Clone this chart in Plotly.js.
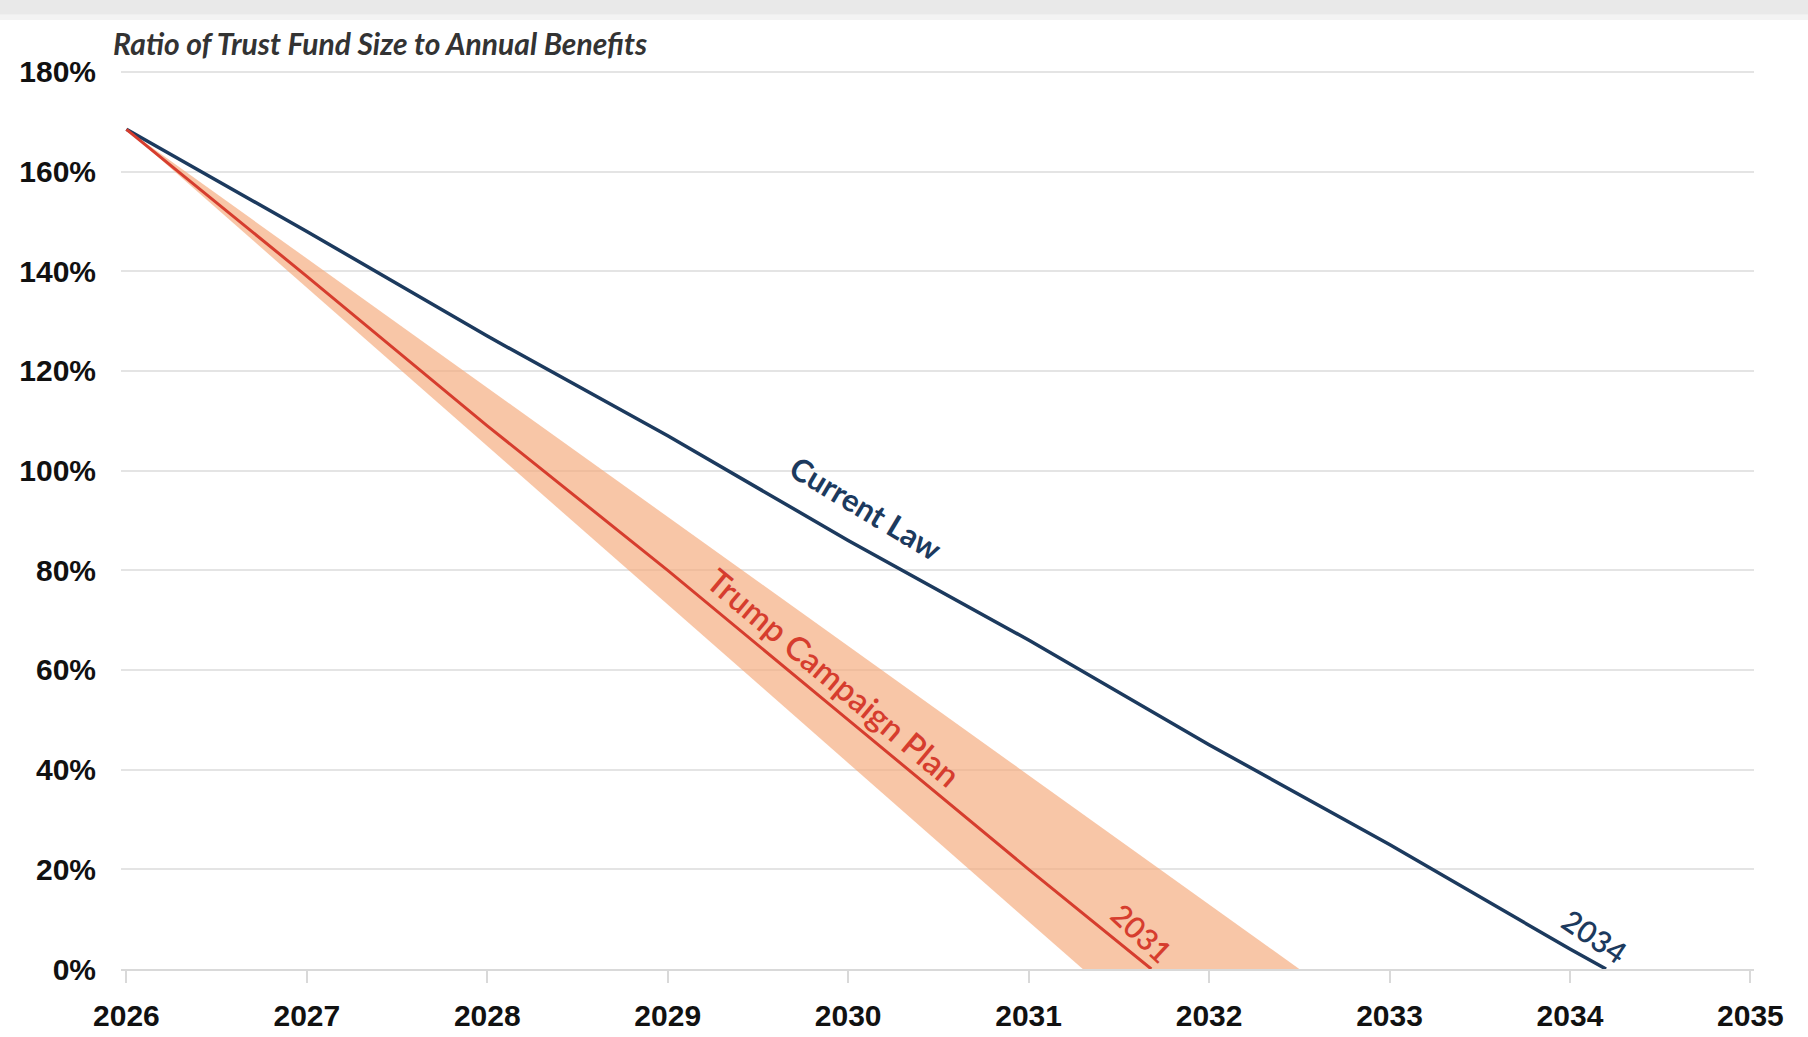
<!DOCTYPE html>
<html>
<head>
<meta charset="utf-8">
<script src="https://cdn.plot.ly/plotly-3.0.1.min.js"></script>
<style>
  html, body { margin: 0; padding: 0; background: #ffffff; }
  #chart { width: 1808px; height: 1037px; }
</style>
</head>
<body>
<div id="chart"></div>
<script>
// ---- Data ----
const yearTicks = [2026, 2027, 2028, 2029, 2030, 2031, 2032, 2033, 2034, 2035];
const yearLabels = ["2026", "2027", "2028", "2029", "2030", "2031", "2032", "2033", "2034", "2035"];
const pctTicks = [0, 20, 40, 60, 80, 100, 120, 140, 160, 180];
const pctLabels = ["0%", "20%", "40%", "60%", "80%", "100%", "120%", "140%", "160%", "180%"];

const currentLawX = [2026, 2027, 2028, 2029, 2030, 2031, 2032, 2033, 2034, 2034.2];
const currentLawY = [168.5, 148, 127, 107, 86, 66, 45, 25, 4, 0];

const trumpX = [2026, 2027, 2028, 2029, 2030, 2031, 2031.68];
const trumpY = [168.5, 139, 109, 80, 50, 20, 0];

// uncertainty band around the Trump Campaign Plan line
const bandLowX = [2026, 2031.3];
const bandLowY = [168.5, 0];
const bandHighX = [2026, 2032.5];
const bandHighY = [168.5, 0];

const titleText = "Ratio of Trust Fund Size to Annual Benefits";
const currentLawLabel = "Current Law";
const trumpLabel = "Trump Campaign Plan";
const currentLawEndLabel = "2034";
const trumpEndLabel = "2031";

// ---- Styles ----
const navy = "#1c3a5e";
const red = "#d63d2e";
const bandFill = "rgba(245,168,122,0.66)";

const bandX = bandHighX.concat(bandLowX.slice().reverse());
const bandY = bandHighY.concat(bandLowY.slice().reverse());

const traces = [
  {
    x: bandX, y: bandY, type: "scatter", mode: "lines",
    fill: "toself", fillcolor: bandFill, line: {width: 0},
    hoverinfo: "skip", showlegend: false
  },
  {
    x: currentLawX, y: currentLawY, type: "scatter", mode: "lines",
    line: {color: navy, width: 3.5}, name: currentLawLabel, showlegend: false
  },
  {
    x: trumpX, y: trumpY, type: "scatter", mode: "lines",
    line: {color: red, width: 3}, name: trumpLabel, showlegend: false
  }
];

const labelFont = "Lato, 'Open Sans', sans-serif";
const tickFontFamily = "'Liberation Sans', Arial, sans-serif";

const layout = {
  width: 1808,
  height: 1037,
  paper_bgcolor: "#ffffff",
  plot_bgcolor: "#ffffff",
  margin: {l: 121, r: 54, t: 67, b: 68, pad: 0},
  title: {
    text: "<b><i>" + titleText + "</i></b>",
    font: {family: labelFont, size: 30, color: "#333333"},
    xref: "container", yref: "container",
    x: 0.0625, xanchor: "left",
    y: 0.957, yanchor: "middle"
  },
  xaxis: {
    range: [2025.97, 2035.02],
    tickmode: "array",
    tickvals: yearTicks,
    ticktext: yearLabels,
    showgrid: false,
    zeroline: false,
    showline: true,
    linecolor: "#d9d9d9",
    linewidth: 2,
    ticks: "outside",
    ticklen: 12,
    tickwidth: 2,
    tickcolor: "#d9d9d9",
    ticklabelstandoff: 7,
    tickfont: {family: tickFontFamily, size: 30, color: "#111111", weight: "bold"},
    fixedrange: true
  },
  yaxis: {
    range: [0, 181],
    tickmode: "array",
    tickvals: pctTicks,
    ticktext: pctLabels,
    showgrid: true,
    gridcolor: "#e4e4e4",
    gridwidth: 2,
    zeroline: false,
    showline: false,
    ticks: "",
    ticklabelstandoff: 24,
    tickfont: {family: tickFontFamily, size: 30, color: "#111111", weight: "bold"},
    fixedrange: true
  },
  shapes: [
    {type: "rect", xref: "paper", yref: "paper", layer: "below",
     x0: -0.08, x1: 1.04, y0: 1.058, y1: 1.09, fillcolor: "#e9e9e9", line: {width: 0}},
    {type: "rect", xref: "paper", yref: "paper", layer: "below",
     x0: -0.08, x1: 1.04, y0: 1.052, y1: 1.058, fillcolor: "#f3f3f3", line: {width: 0}}
  ],
  annotations: [
    {x: 2030.1, y: 92.5, xref: "x", yref: "y", text: currentLawLabel, showarrow: false,
     textangle: 31, font: {family: labelFont, size: 31, color: navy, weight: "bold"},
     xanchor: "center", yanchor: "middle"},
    {x: 2029.92, y: 58.5, xref: "x", yref: "y", text: trumpLabel, showarrow: false,
     textangle: 40, font: {family: labelFont, size: 33, color: red, weight: 600},
     xanchor: "center", yanchor: "middle"},
    {x: 2031.63, y: 7.2, xref: "x", yref: "y", text: trumpEndLabel, showarrow: false,
     textangle: 43, font: {family: labelFont, size: 30, color: red, weight: 600},
     xanchor: "center", yanchor: "middle"},
    {x: 2034.14, y: 6.6, xref: "x", yref: "y", text: currentLawEndLabel, showarrow: false,
     textangle: 34, font: {family: labelFont, size: 30, color: navy, weight: 600},
     xanchor: "center", yanchor: "middle"}
  ]
};

Plotly.newPlot("chart", traces, layout, {displayModeBar: false, staticPlot: true});
</script>
</body>
</html>
